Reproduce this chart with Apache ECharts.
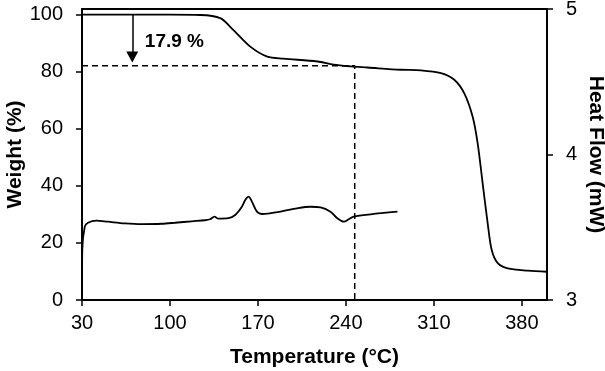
<!DOCTYPE html>
<html>
<head>
<meta charset="utf-8">
<script src="https://cdn.jsdelivr.net/npm/echarts@6/dist/echarts.min.js"></script>
<style>
html,body{margin:0;padding:0;background:#fff;}
#chart{width:605px;height:371px;}
</style>
</head>
<body>
<div id="chart"></div>
<script>
// Temperature ticks
var xTicks = [30, 100, 170, 240, 310, 380];
var weightTicks = [0, 20, 40, 60, 80, 100];

// TGA weight curve: [temperature (°C), weight (%)]
var tgaTemp   = [30, 60, 100, 124, 140, 150.3, 163.9, 177.4, 190.2, 217.4, 230.2, 243.7, 257.3, 283.6, 299.6, 315.6, 326.2, 334.1, 340.8, 344.8, 348.8, 352.8, 356.0, 360.8, 368.8, 384.8, 400];
var tgaWeight = [100, 100, 100, 99.9, 98.8, 94.7, 88.8, 85.3, 84.6, 83.6, 82.5, 81.9, 81.5, 80.7, 80.5, 79.5, 77.2, 72.5, 64.3, 55.0, 40.9, 26.9, 17.5, 12.9, 11.1, 10.3, 9.9];

// DSC heat flow curve: [temperature (°C), heat flow (mW)]
var dscTemp = [30, 30.2, 32.2, 34.8, 41.5, 50.5, 64.1, 77.4, 93.4, 104.0, 117.3, 127.9, 131.9, 135.4, 138.6, 146.5, 151.9, 157.2, 159.9, 162.5, 165.2, 169.2, 173.2, 187.8, 201.1, 211.8, 219.8, 227.7, 233.1, 238.4, 242.3, 246.3, 259.7, 281.0];
var dscFlow = [3.0, 3.34, 3.504, 3.531, 3.545, 3.538, 3.527, 3.522, 3.524, 3.531, 3.541, 3.548, 3.555, 3.573, 3.559, 3.562, 3.584, 3.641, 3.687, 3.710, 3.676, 3.607, 3.591, 3.607, 3.630, 3.641, 3.637, 3.607, 3.562, 3.538, 3.555, 3.573, 3.589, 3.607];

// Annotation values
var lossText = '17.9 %';
var residualWeight = 82.1;
var residualTemp = 247;
var arrowTemp = 70;
var arrowEnd = 85.2;
var labelPos = [80, 90.6];

function zip(a, b) { return a.map(function (v, i) { return [v, b[i]]; }); }

var chart = echarts.init(document.getElementById('chart'), null, {renderer: 'canvas'});
var font = 'Liberation Sans, Arial, Helvetica, sans-serif';
var axisCommon = {
  axisLine: {show: true, lineStyle: {color: '#000', width: 2}},
  axisTick: {show: true, inside: false, length: 6, lineStyle: {color: '#000', width: 1.5}},
  splitLine: {show: false},
  nameMoveOverlap: false,
  axisLabel: {color: '#000', fontSize: 20, fontFamily: font},
  nameTextStyle: {color: '#000', fontSize: 21, fontWeight: 'bold', fontFamily: font}
};

chart.setOption({
  animation: false,
  backgroundColor: '#fff',
  grid: {left: 82, right: 58, top: 9, bottom: 71, containLabel: false, outerBoundsMode: 'none'},
  xAxis: [
    Object.assign({}, axisCommon, {
      type: 'value', min: 30, max: 400, position: 'bottom',
      name: 'Temperature (°C)', nameLocation: 'middle', nameGap: 47,
      axisTick: Object.assign({}, axisCommon.axisTick, {customValues: xTicks}),
      axisLabel: Object.assign({}, axisCommon.axisLabel, {customValues: xTicks, margin: 13})
    }),
    {
      type: 'value', min: 30, max: 400, position: 'top',
      axisLine: {show: true, onZero: false, lineStyle: {color: '#000', width: 2}},
      axisTick: {show: false}, axisLabel: {show: false}, splitLine: {show: false}
    }
  ],
  yAxis: [
    Object.assign({}, axisCommon, {
      type: 'value', min: 0, max: 102, position: 'left',
      name: 'Weight (%)', nameLocation: 'middle', nameGap: 56,
      axisTick: Object.assign({}, axisCommon.axisTick, {customValues: weightTicks}),
      axisLabel: Object.assign({}, axisCommon.axisLabel, {customValues: weightTicks, margin: 19})
    }),
    Object.assign({}, axisCommon, {
      type: 'value', min: 3, max: 5, interval: 1, position: 'right',
      name: 'Heat Flow (mW)', nameLocation: 'middle', nameGap: 38, nameRotate: -90,
      axisLabel: Object.assign({}, axisCommon.axisLabel, {margin: 19})
    })
  ],
  series: [
    {
      type: 'line', xAxisIndex: 0, yAxisIndex: 0, data: zip(tgaTemp, tgaWeight), smooth: 0.3,
      showSymbol: false, lineStyle: {color: '#000', width: 1.8}, z: 3,
      markLine: {
        silent: true, symbol: ['none', 'triangle'], symbolSize: [12, 11],
        lineStyle: {color: '#000', width: 1.5, type: 'solid'},
        label: {show: false},
        data: [[{coord: [arrowTemp, 100]}, {coord: [arrowTemp, arrowEnd]}]]
      },
      markPoint: {
        silent: true, symbol: 'circle', symbolSize: 0,
        data: [{coord: labelPos, value: lossText}],
        label: {show: true, position: [0, 0], formatter: lossText, color: '#000',
          fontSize: 19, fontWeight: 'bold', fontFamily: font, align: 'left', verticalAlign: 'middle'}
      }
    },
    {
      type: 'line', xAxisIndex: 0, yAxisIndex: 1, data: zip(dscTemp, dscFlow), smooth: 0.3,
      showSymbol: false, lineStyle: {color: '#000', width: 1.8}, z: 3
    },
    {
      type: 'line', xAxisIndex: 0, yAxisIndex: 0,
      data: [[30, residualWeight], [residualTemp, residualWeight], [residualTemp, 0]],
      showSymbol: false, lineStyle: {color: '#000', width: 1.5, type: [6, 4]}, z: 2
    }
  ]
});
</script>
</body>
</html>
